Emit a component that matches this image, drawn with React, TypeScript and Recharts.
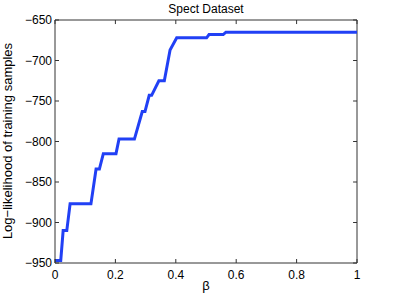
import { LineChart, Line, XAxis, YAxis, ReferenceLine } from "recharts";

const beta = [0, 0.019, 0.027, 0.039, 0.05, 0.119, 0.136, 0.147, 0.16, 0.202, 0.212, 0.263, 0.289, 0.298, 0.312, 0.32, 0.344, 0.362, 0.381, 0.403, 0.502, 0.51, 0.557, 0.566, 1];
const logLik = [-947, -947, -910, -910, -877, -877, -834, -834, -815, -815, -797, -797, -763, -763, -743, -743, -725, -725, -687, -672, -672, -668, -668, -665, -665];

const xTicks = [0, 0.2, 0.4, 0.6, 0.8, 1];
const yTicks = [-950, -900, -850, -800, -750, -700, -650];

const data = beta.map((b, i) => ({ beta: b, value: logLik[i] }));

const FONT = '"Liberation Sans", Arial, sans-serif';
const AXIS = "#333";
const TICK = 4;
// inward tick lengths in data units for the top / right box edges
const TOP_TICK = 5;
const RIGHT_TICK = 0.013;

const fmt = (v: number) => String(v).replace("-", "\u2212");

function BottomTick({ x, y, payload }: any) {
  return (
    <g>
      <line x1={x} x2={x} y1={y} y2={y - TICK} stroke={AXIS} />
      <text x={x} y={y + 16} textAnchor="middle" fontSize={12} fontFamily={FONT} fill="#000">
        {fmt(payload.value)}
      </text>
    </g>
  );
}

function LeftTick({ x, y, payload }: any) {
  return (
    <g>
      <line x1={x} x2={x + TICK} y1={y} y2={y} stroke={AXIS} />
      <text x={x - 3} y={y + 4.3} textAnchor="end" fontSize={12} fontFamily={FONT} fill="#000">
        {fmt(payload.value)}
      </text>
    </g>
  );
}

export default function App() {
  return (
    <div style={{ position: "absolute", left: 0, top: 0, width: 395, height: 296, background: "#fff" }}>
      <LineChart width={395} height={296} data={data} margin={{ top: 20, right: 38, left: 0, bottom: 0 }}>
        <XAxis
          dataKey="beta"
          type="number"
          domain={[0, 1]}
          ticks={xTicks}
          interval={0}
          height={33}
          tickSize={0}
          tickMargin={0}
          tickLine={false}
          axisLine={{ stroke: AXIS }}
          tick={<BottomTick />}
        />
        <YAxis
          type="number"
          domain={[-950, -650]}
          ticks={yTicks}
          interval={0}
          width={55}
          tickSize={0}
          tickMargin={0}
          tickLine={false}
          axisLine={{ stroke: AXIS }}
          tick={<LeftTick />}
        />
        <ReferenceLine y={-650} stroke={AXIS} />
        <ReferenceLine x={1} stroke={AXIS} />
        {xTicks.map((t) => (
          <ReferenceLine
            key={"tx" + t}
            segment={[
              { x: t, y: -650 },
              { x: t, y: -650 - TOP_TICK },
            ]}
            stroke={AXIS}
          />
        ))}
        {yTicks.map((t) => (
          <ReferenceLine
            key={"ty" + t}
            segment={[
              { x: 1, y: t },
              { x: 1 - RIGHT_TICK, y: t },
            ]}
            stroke={AXIS}
          />
        ))}
        <Line
          type="linear"
          dataKey="value"
          stroke="#2140f5"
          strokeWidth={3}
          dot={false}
          isAnimationActive={false}
        />
      </LineChart>
      <svg width={395} height={296} style={{ position: "absolute", left: 0, top: 0, pointerEvents: "none" }}>
        <text x={206} y={12.5} textAnchor="middle" fontSize={12} fontFamily={FONT} fill="#000">
          Spect Dataset
        </text>
        <text x={206} y={290} textAnchor="middle" fontSize={13} fontFamily={FONT} fill="#000">
          β
        </text>
        <text
          x={12}
          y={141}
          transform="rotate(-90 12 141)"
          textAnchor="middle"
          fontSize={13}
          fontFamily={FONT}
          fill="#000"
        >
          Log−likelihood of training samples
        </text>
      </svg>
    </div>
  );
}
